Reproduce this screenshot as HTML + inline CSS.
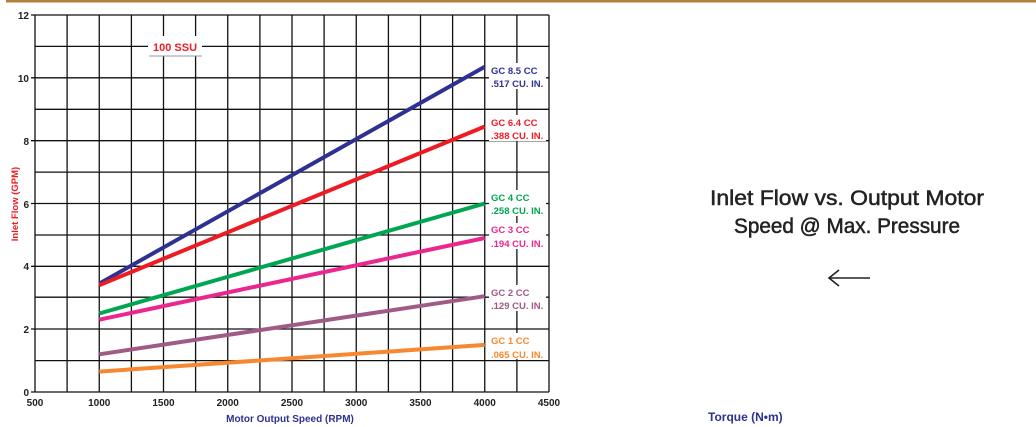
<!DOCTYPE html>
<html><head><meta charset="utf-8"><style>
html,body{margin:0;padding:0;background:#fff;width:1036px;height:427px;overflow:hidden}
svg{display:block}
</style></head><body>
<svg width="1036" height="427" xmlns="http://www.w3.org/2000/svg" font-family="Liberation Sans, sans-serif">
<rect x="6" y="0" width="1030" height="2.5" fill="#b3803f"/>
<g stroke="#111" stroke-width="1.3">
<line x1="35" y1="15" x2="35" y2="392"/>
<line x1="67.1" y1="15" x2="67.1" y2="392"/>
<line x1="99.25" y1="15" x2="99.25" y2="392"/>
<line x1="131.4" y1="15" x2="131.4" y2="392"/>
<line x1="163.5" y1="15" x2="163.5" y2="392"/>
<line x1="195.6" y1="15" x2="195.6" y2="392"/>
<line x1="227.75" y1="15" x2="227.75" y2="392"/>
<line x1="259.9" y1="15" x2="259.9" y2="392"/>
<line x1="292" y1="15" x2="292" y2="392"/>
<line x1="324.1" y1="15" x2="324.1" y2="392"/>
<line x1="356.25" y1="15" x2="356.25" y2="392"/>
<line x1="388.4" y1="15" x2="388.4" y2="392"/>
<line x1="420.5" y1="15" x2="420.5" y2="392"/>
<line x1="452.6" y1="15" x2="452.6" y2="392"/>
<line x1="484.75" y1="15" x2="484.75" y2="392"/>
<line x1="516.9" y1="15" x2="516.9" y2="392"/>
<line x1="549" y1="15" x2="549" y2="392"/>
<line x1="31" y1="15" x2="549" y2="15"/>
<line x1="35" y1="46.4" x2="549" y2="46.4"/>
<line x1="31" y1="77.8" x2="549" y2="77.8"/>
<line x1="35" y1="109.3" x2="549" y2="109.3"/>
<line x1="31" y1="140.7" x2="549" y2="140.7"/>
<line x1="35" y1="172.1" x2="549" y2="172.1"/>
<line x1="31" y1="203.5" x2="549" y2="203.5"/>
<line x1="35" y1="235" x2="549" y2="235"/>
<line x1="31" y1="266.3" x2="549" y2="266.3"/>
<line x1="35" y1="297.2" x2="549" y2="297.2"/>
<line x1="31" y1="329" x2="549" y2="329"/>
<line x1="35" y1="360.6" x2="549" y2="360.6"/>
<line x1="31" y1="392" x2="549" y2="392"/>
</g>
<rect x="148" y="36" width="54" height="20" fill="#fff"/>
<line x1="149" y1="56" x2="202" y2="56" stroke="#999" stroke-width="1"/>
<text x="175" y="51" fill="#e8202a" font-size="11" font-weight="bold" text-anchor="middle">100 SSU</text>
<g stroke-width="4" stroke-linecap="butt">
<line x1="99.25" y1="283.6" x2="484.75" y2="66.8" stroke="#2e3192"/>
<line x1="99.25" y1="285.2" x2="484.75" y2="126.5" stroke="#ed1c24"/>
<line x1="99.25" y1="313.5" x2="484.75" y2="203.5" stroke="#00a651"/>
<line x1="99.25" y1="319.7" x2="484.75" y2="238" stroke="#ec268f"/>
<line x1="99.25" y1="354.3" x2="484.75" y2="296.2" stroke="#a05a88"/>
<line x1="99.25" y1="371.6" x2="484.75" y2="344.9" stroke="#f7882f"/>
</g>
<g font-size="9.5" font-weight="bold">
<rect x="489" y="63" width="57" height="26" fill="#fff"/>
<text x="491" y="74" fill="#2e3192">GC 8.5 CC</text><text x="491" y="87" fill="#2e3192">.517 CU. IN.</text>
<rect x="489" y="115" width="57" height="26" fill="#fff"/>
<text x="491" y="126" fill="#ed1c24">GC 6.4 CC</text><text x="491" y="139" fill="#ed1c24">.388 CU. IN.</text>
<rect x="489" y="190" width="57" height="26" fill="#fff"/>
<text x="491" y="201" fill="#00a651">GC 4 CC</text><text x="491" y="214" fill="#00a651">.258 CU. IN.</text>
<rect x="489" y="223" width="57" height="26" fill="#fff"/>
<text x="491" y="233" fill="#ec268f">GC 3 CC</text><text x="491" y="247" fill="#ec268f">.194 CU. IN.</text>
<rect x="489" y="285" width="57" height="26" fill="#fff"/>
<text x="491" y="296" fill="#a05a88">GC 2 CC</text><text x="491" y="309" fill="#a05a88">.129 CU. IN.</text>
<rect x="489" y="333" width="57" height="26" fill="#fff"/>
<text x="491" y="344" fill="#f7882f">GC 1 CC</text><text x="491" y="358" fill="#f7882f">.065 CU. IN.</text>
</g>
<g font-size="10" font-weight="bold" fill="#222" text-anchor="end">
<text x="29" y="19">12</text><text x="29" y="82">10</text><text x="29" y="145">8</text>
<text x="29" y="208">6</text><text x="29" y="270">4</text><text x="29" y="333">2</text><text x="29" y="396">0</text>
</g>
<g font-size="10" font-weight="bold" fill="#222" text-anchor="middle">
<text x="35" y="406">500</text><text x="99.25" y="406">1000</text><text x="163.5" y="406">1500</text>
<text x="227.75" y="406">2000</text><text x="292" y="406">2500</text><text x="356.25" y="406">3000</text>
<text x="420.5" y="406">3500</text><text x="484.75" y="406">4000</text><text x="549" y="406">4500</text>
</g>
<text x="290" y="422" font-size="10" font-weight="bold" fill="#2e3192" text-anchor="middle">Motor Output Speed (RPM)</text>
<text transform="translate(18,204) rotate(-90)" font-size="9.5" font-weight="bold" fill="#ed1c24" text-anchor="middle">Inlet Flow (GPM)</text>
<g font-size="21" fill="#222" text-anchor="middle" stroke="#222" stroke-width="0.5">
<text x="847" y="205" textLength="274" lengthAdjust="spacingAndGlyphs">Inlet Flow vs. Output Motor</text>
<text x="847" y="233" textLength="226" lengthAdjust="spacingAndGlyphs">Speed @ Max. Pressure</text>
</g>
<g stroke="#222" stroke-width="1.6" fill="none">
<line x1="829" y1="278" x2="870" y2="278"/>
<polyline points="839,270 829,278 839,286"/>
</g>
<text x="708" y="421" font-size="12" font-weight="bold" fill="#2e3192">Torque (N•m)</text>
</svg>
</body></html>
